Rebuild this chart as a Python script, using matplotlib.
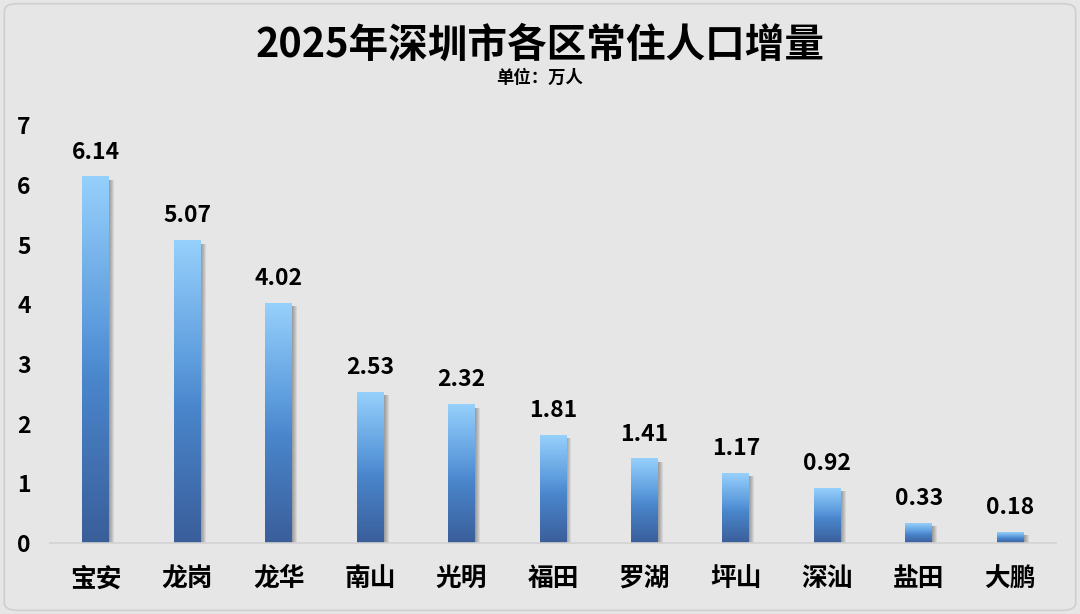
import matplotlib
matplotlib.use("Agg")
import matplotlib.pyplot as plt
import numpy as np
from matplotlib.colors import LinearSegmentedColormap
from matplotlib.patches import Rectangle, FancyBboxPatch

plt.rcParams['font.family'] = ['Noto Sans CJK SC', 'DejaVu Sans']
plt.rcParams['font.weight'] = 'heavy'

# data
districts = ["宝安", "龙岗", "龙华", "南山", "光明", "福田", "罗湖", "坪山", "深汕", "盐田", "大鹏"]
increase = [6.14, 5.07, 4.02, 2.53, 2.32, 1.81, 1.41, 1.17, 0.92, 0.33, 0.18]
yticks = [0, 1, 2, 3, 4, 5, 6, 7]
title = "2025年深圳市各区常住人口增量"
subtitle = "单位：万人"

bg = "#E6E6E6"
cmap = LinearSegmentedColormap.from_list(
    "bar", [(0, "#3A5E9A"), (0.45, "#4A86CC"), (0.6, "#5E9DDE"), (1, "#96D0FC")])
grad = np.linspace(0, 1, 256).reshape(-1, 1)

fig = plt.figure(figsize=(10.8, 6.14), dpi=100, facecolor=bg)
ax = fig.add_axes([50/1080, 1-543/614, 1006/1080, (543-125.4)/614])
ax.set_facecolor(bg)

w = 0.295
px_x = 1/91.5
px_y = 1/59.66
for i, v in enumerate(increase):
    # soft shadow on the right
    for k in range(1, 6):
        ax.add_patch(Rectangle((i - w/2 + k*px_x, 0), w, max(v - 3*px_y, 0),
                               facecolor="black", alpha=0.07, lw=0, zorder=1))
    ax.imshow(grad, cmap=cmap, origin="lower", aspect="auto",
              extent=[i - w/2, i + w/2, 0, v], zorder=2, interpolation="bicubic")
    ax.annotate(f"{v:.2f}", (i, v), xytext=(0, 9.5), textcoords="offset points",
                ha="center", va="bottom", fontsize=16.5, fontweight="heavy", color="black")

ax.set_xlim(-0.5, len(districts) - 0.5)
ax.set_ylim(0, 7)
ax.set_xticks(range(len(districts)))
ax.set_xticklabels(districts, fontsize=18.5, fontweight="heavy")
ax.set_yticks(yticks)
ax.set_yticklabels([str(t) for t in yticks], fontsize=16.5, fontweight="heavy")
ax.tick_params(axis="x", length=0, pad=16)
ax.tick_params(axis="y", length=0, pad=14)
for s in ["top", "right", "left"]:
    ax.spines[s].set_visible(False)
ax.spines["bottom"].set_color("#D2D2D2")
ax.spines["bottom"].set_linewidth(1.2)

fig.text(0.5, 1-45/614, title, ha="center", va="center", fontsize=28.5, fontweight="heavy")
fig.text(0.5, 1-78/614, subtitle, ha="center", va="center", fontsize=12.5, fontweight="heavy")

fig.patches.append(FancyBboxPatch((0.004, 0.006), 0.992, 0.988, boxstyle="round,pad=0,rounding_size=0.012",
                                  transform=fig.transFigure, facecolor="none",
                                  edgecolor="#CFCFCF", lw=1.2))

fig.savefig("out.png", dpi=100, facecolor=bg)
